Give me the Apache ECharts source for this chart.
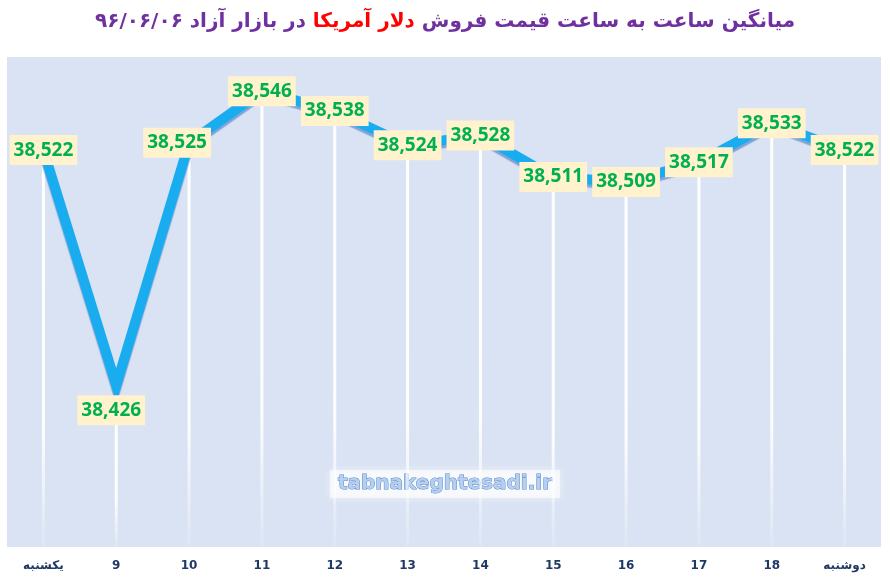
<!DOCTYPE html>
<html>
<head>
<meta charset="utf-8">
<script src="https://cdn.jsdelivr.net/npm/echarts@6/dist/echarts.min.js"></script>
<style>
  html, body { margin: 0; padding: 0; background: #fff; }
  #main { width: 890px; height: 588px; }
</style>
</head>
<body>
<div id="main"></div>
<script>
// ساعت ها (hours)
var hours = ['یکشنبه', '9', '10', '11', '12', '13', '14', '15', '16', '17', '18', 'دوشنبه'];
// قیمت فروش دلار
var prices = [38522, 38426, 38525, 38546, 38538, 38524, 38528, 38511, 38509, 38517, 38533, 38522];

var chart = echarts.init(document.getElementById('main'));

// label tweaks for a couple of points
var lineData = prices.map(function (v, i) {
  var item = { value: v };
  if (i === 1) item.label = { offset: [-5, 25] };
  if (i === 2) item.label = { offset: [-12, 0] };
  return item;
});

var option = {
  backgroundColor: '#ffffff',
  title: {
    left: 'center',
    top: 7,
    text: '{p|در بازار آزاد ۹۶/۰۶/۰۶} {r|دلار آمریکا} {p|میانگین ساعت به ساعت قیمت فروش}',
    textStyle: {
      fontFamily: 'DejaVu Sans',
      fontSize: 20,
      fontWeight: 'bold',
      color: '#7030a0',
      rich: {
        p: { fontFamily: 'DejaVu Sans', fontSize: 20, fontWeight: 'bold', color: '#7030a0' },
        r: { fontFamily: 'DejaVu Sans', fontSize: 20, fontWeight: 'bold', color: '#ff0000' }
      }
    }
  },
  grid: {
    left: 7, right: 9, top: 57, bottom: 41,
    show: true,
    backgroundColor: '#dae3f3',
    borderWidth: 0
  },
  xAxis: {
    type: 'category',
    data: hours,
    boundaryGap: true,
    axisLine: { show: false },
    axisTick: { show: false },
    splitLine: { show: false },
    axisLabel: {
      margin: 13,
      color: '#1f3864',
      fontFamily: 'DejaVu Sans',
      fontWeight: 'bold',
      fontSize: 12
    }
  },
  yAxis: {
    type: 'value',
    min: 38360,
    max: 38560,
    show: false,
    splitLine: { show: false }
  },
  graphic: [{
    type: 'group',
    left: 'center',
    top: 470,
    children: [{
      type: 'rect',
      shape: { x: 0, y: 0, width: 230, height: 28 },
      style: { fill: 'rgba(255,255,255,0.6)', shadowBlur: 8, shadowColor: 'rgba(255,255,255,0.9)' }
    }, {
      type: 'text',
      x: 115, y: 14,
      style: {
        text: 'tabnakeghtesadi.ir',
        align: 'center',
        verticalAlign: 'middle',
        fontFamily: 'DejaVu Sans',
        fontWeight: 'bold',
        fontSize: 20,
        fill: '#b4cff0',
        stroke: '#5a88c8',
        lineWidth: 1
      }
    }]
  }],
  series: [{
    // drop lines
    type: 'bar',
    data: prices,
    barWidth: 3,
    z: 1,
    silent: true,
    itemStyle: {
      color: new echarts.graphic.LinearGradient(0, 0, 0, 1, [
        { offset: 0, color: 'rgba(255,255,255,1)' },
        { offset: 0.7, color: 'rgba(255,255,255,0.95)' },
        { offset: 1, color: 'rgba(255,255,255,0.1)' }
      ])
    }
  }, {
    type: 'line',
    data: lineData,
    z: 3,
    symbol: 'circle',
    symbolSize: 1,
    showSymbol: true,
    itemStyle: { color: '#19adef' },
    lineStyle: {
      width: 10,
      color: '#19adef',
      join: 'miter',
      miterLimit: 10,
      shadowColor: 'rgba(40,100,190,0.5)',
      shadowBlur: 1,
      shadowOffsetY: 3
    },
    label: {
      show: true,
      position: 'inside',
      formatter: function (p) { return p.value.toLocaleString('en-US'); },
      backgroundColor: '#fff2cc',
      padding: [5, 4, 5, 4],
      lineHeight: 20,
      color: '#00b050',
      fontFamily: 'Noto Sans',
      fontWeight: 'bold',
      fontSize: 19
    }
  }]
};

chart.setOption(option);
</script>
</body>
</html>
